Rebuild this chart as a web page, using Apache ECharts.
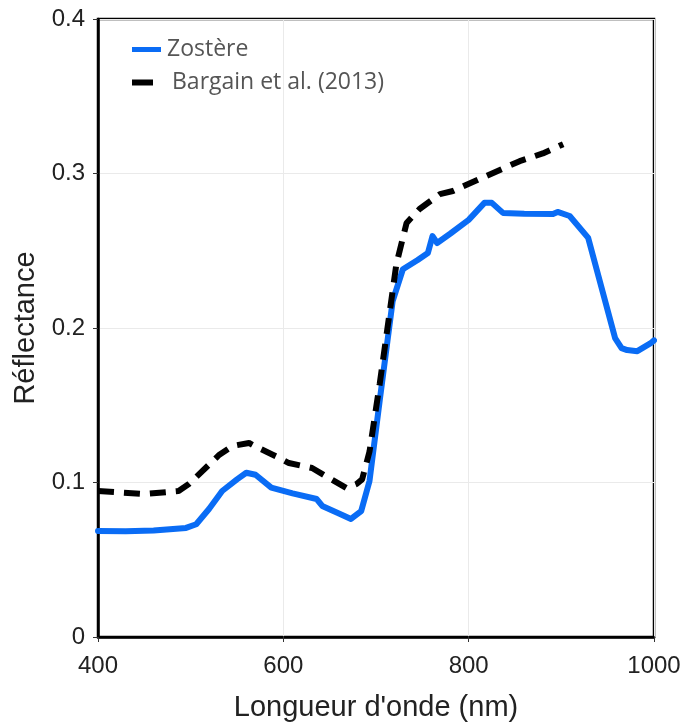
<!DOCTYPE html>
<html><head><meta charset="utf-8">
<script src="https://cdn.jsdelivr.net/npm/echarts@6/dist/echarts.min.js"></script>
<style>html,body{margin:0;padding:0;background:#fff}#c{width:687px;height:723px}</style>
</head><body><div id="c"></div>
<script>
const zostereNm = [400, 430, 460, 495, 506, 520, 534, 550, 560, 570, 587, 610, 636, 642, 660, 673, 684, 693, 704, 718, 729, 745, 756, 761, 766, 780, 800, 817, 825, 837, 860, 891, 896, 909, 929, 958, 965, 971, 982, 996, 1000];
const zostereR  = [0.0686, 0.0684, 0.069, 0.0706, 0.073, 0.083, 0.0945, 0.102, 0.1063, 0.105, 0.0967, 0.093, 0.0893, 0.0848, 0.080, 0.0764, 0.0815, 0.101, 0.153, 0.2175, 0.238, 0.244, 0.2485, 0.2595, 0.255, 0.261, 0.270, 0.281, 0.281, 0.2745, 0.274, 0.2738, 0.2751, 0.2725, 0.2583, 0.1935, 0.187, 0.1857, 0.185, 0.19, 0.192];
const bargainNm = [400, 450, 487, 498, 531, 545, 563, 569, 592, 606, 631, 646, 668, 679, 685, 693, 704, 722, 733, 747, 769, 783, 819, 855, 880, 902];
const bargainR  = [0.0945, 0.0925, 0.0945, 0.099, 0.118, 0.1236, 0.1256, 0.1236, 0.117, 0.1126, 0.1094, 0.104, 0.0964, 0.099, 0.102, 0.120, 0.1638, 0.2414, 0.268, 0.277, 0.2867, 0.2887, 0.2984, 0.308, 0.313, 0.319];
const xTicks = [400, 600, 800, 1000];
const yTicks = [0, 0.1, 0.2, 0.3, 0.4];

const chart = echarts.init(document.getElementById('c'), null, {renderer: 'canvas'});
const zip = (a, b) => a.map((v, i) => [v, b[i]]);
chart.setOption({
  animation: false,
  backgroundColor: '#fff',
  grid: {left: 98, right: 33, top: 19, bottom: 86, containLabel: false, outerBoundsMode: 'none',
         show: true, borderColor: '#000', borderWidth: 2.5},
  legend: [
    {data: [{name: 'Zostère'}], left: 127, top: 33, orient: 'vertical', icon: 'rect', itemWidth: 29, itemHeight: 5, itemGap: 6,
     textStyle: {fontFamily: 'Open Sans', fontSize: 23, color: '#555', padding: [0, 0, 0, 1]}},
    {data: [{name: 'Bargain et al. (2013)'}], left: 127, top: 66, orient: 'vertical', icon: 'rect', itemWidth: 21, itemHeight: 6, itemGap: 14,
     textStyle: {fontFamily: 'Open Sans', fontSize: 23, color: '#555', padding: [0, 0, 0, 14]}}
  ],
  xAxis: {
    type: 'value', min: 400, max: 1000, interval: 200,
    name: "Longueur d'onde (nm)", nameLocation: 'middle', nameGap: 56,
    nameTextStyle: {fontFamily: 'Liberation Sans', fontSize: 29, color: '#222'},
    axisLine: {show: true, lineStyle: {color: '#000', width: 2.5}},
    axisTick: {show: true, length: 5, lineStyle: {color: '#333'}},
    axisLabel: {fontFamily: 'Liberation Sans', fontSize: 24, color: '#222', margin: 17,
      formatter: v => xTicks.includes(v) ? String(v) : ''},
    splitLine: {show: true, lineStyle: {color: '#eaeaea', width: 1}}
  },
  yAxis: {
    type: 'value', min: 0, max: 0.4, interval: 0.1,
    name: 'Réflectance', nameLocation: 'middle', nameGap: 53,
    nameTextStyle: {fontFamily: 'Liberation Sans', fontSize: 29, color: '#222'},
    axisLine: {show: true, lineStyle: {color: '#000', width: 2.5}},
    axisTick: {show: true, length: 5, lineStyle: {color: '#333'}},
    axisLabel: {fontFamily: 'Liberation Sans', fontSize: 24, color: '#222', margin: 13,
      formatter: v => { const t = yTicks.find(k => Math.abs(k - v) < 1e-9); return t === undefined ? '' : String(t); }},
    splitLine: {show: true, lineStyle: {color: '#eaeaea', width: 1}}
  },
  series: [
    {name: 'Zostère', type: 'line', data: zip(zostereNm, zostereR), showSymbol: false, symbol: 'none',
     itemStyle: {color: '#0a6cf5'}, lineStyle: {color: '#0a6cf5', width: 6, join: 'round', cap: 'round'}, z: 3},
    {name: 'Bargain et al. (2013)', type: 'line', data: zip(bargainNm, bargainR), showSymbol: false, symbol: 'none',
     itemStyle: {color: '#000'}, lineStyle: {color: '#000', width: 6, type: [16, 10]}, z: 4}
  ]
});
</script></body></html>
